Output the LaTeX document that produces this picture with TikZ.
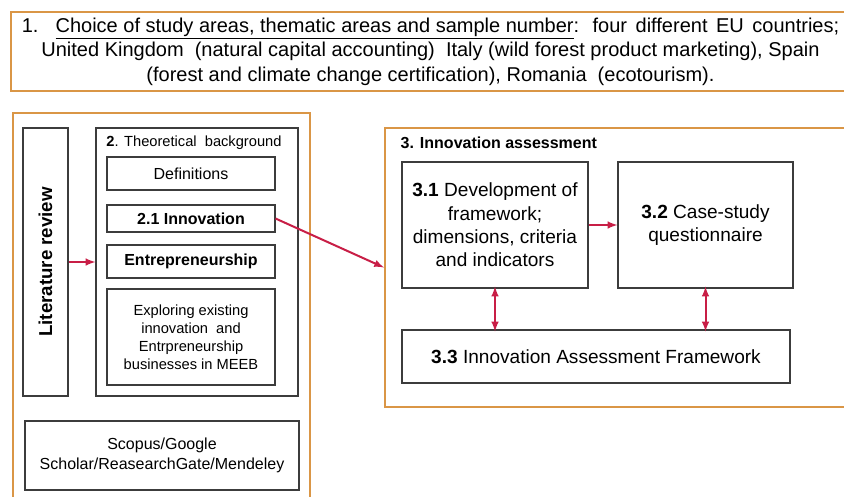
\documentclass[tikz,border=0pt]{standalone}
\usepackage{fontspec}
\setmainfont{Liberation Sans}
\usepackage{tikz}

\definecolor{frameorange}{RGB}{218,150,70}
\definecolor{linkred}{RGB}{200,30,70}
\definecolor{boxgray}{RGB}{60,60,60}

\tikzset{
  frame/.style={draw=frameorange, line width=1.5pt, inner sep=0pt},
  box/.style={draw=boxgray, line width=0.8pt, inner sep=0pt, align=center},
  link/.style={draw=linkred, line width=1.5pt, -latex},
  twoway/.style={draw=linkred, line width=1.5pt, latex-latex},
}

\newcommand{\fs}[1]{\fontsize{#1}{1.22\dimexpr #1pt\relax}\selectfont}

\begin{document}
\begin{tikzpicture}[x=0.75pt,y=0.75pt,yscale=-1,xscale=1]
    \useasboundingbox (0,0) rectangle (844,497);

    %Step 1 box (sizes below are in pt, 1 unit = 0.75pt)
    \node [frame, minimum width=629pt, minimum height=59.25pt, align=center, font=\fs{15}] (choice) at (430.5,51.5)
      {\makebox[613pt][s]{1.\ \ \underline{Choice of study areas, thematic areas and sample number}: four different EU countries;}\\
       United Kingdom\ \ (natural capital accounting)\ \ Italy (wild forest product marketing), Spain\\
       (forest and climate change certification), Romania\ \ (ecotourism).};

    %Outer frames
    \node [frame, minimum width=222.75pt, minimum height=300pt] (litframe) at (161.5,313) {};
    \node [frame, minimum width=356.25pt, minimum height=209.25pt] (assessframe) at (622.5,267.5) {};

    % Literature review
    \node [box, minimum width=33.75pt, minimum height=201pt, font=\fs{14}\bfseries] (litrev) at (45.5,262) {\rotatebox{90}{Literature review}};

    % Theoretical background
    \node [box, minimum width=151.5pt, minimum height=201pt] (theory) at (197,262) {};
    \draw (194,143) node [font=\fs{11}] (theorytitle) {\textbf{2}. Theoretical\ \ background};
    \node [box, minimum width=126pt, minimum height=24.75pt, font=\fs{12}] (defs) at (191,173.5) {Definitions};
    \node [box, minimum width=126pt, minimum height=20.25pt, font=\fs{12}\bfseries] (innov) at (191,218.5) {2.1 Innovation};
    \node [box, minimum width=126pt, minimum height=24.75pt, font=\fs{12}\bfseries] (entre) at (191,261.5) {Entrepreneurship};
    \node [box, minimum width=126pt, minimum height=72pt, font=\fs{11}] (explore) at (191,337) {Exploring existing\\innovation\ \ and\\Entrpreneurship\\businesses in MEEB};

    % Sources
    \node [box, minimum width=205.5pt, minimum height=51.75pt, font=\fs{12}] (scopus) at (162,455.5) {Scopus/Google\\Scholar/ReasearchGate/Mendeley};

    % Innovation assessment
    \draw (396,143) node [anchor=west, font=\fs{12}\bfseries] (assesstitle) {3. Innovation assessment};
    \node [box, minimum width=139.5pt, minimum height=94.5pt, font=\fs{14.3}] (dev) at (495,225) {\textbf{3.1} Development of\\framework;\\dimensions, criteria\\and indicators};
    \node [box, minimum width=131.25pt, minimum height=94.5pt, font=\fs{14.3}] (case) at (705.5,225) {\textbf{3.2} Case-study\\questionnaire};
    \node [box, minimum width=291pt, minimum height=39.75pt, font=\fs{14.3}] (iaf) at (596,356.5) {\textbf{3.3} Innovation Assessment Framework};

    % Arrows
    \draw [link] (litrev.east) -- (theory.west);
    \draw [link] (innov.east) -- (assessframe.west);
    \draw [link] (dev.east) -- (case.west);
    \draw [twoway] ([yshift=-1.5pt]dev.south) -- ([yshift=1.5pt]dev.south |- iaf.north);
    \draw [twoway] ([yshift=-1.5pt]case.south) -- ([yshift=1.5pt]case.south |- iaf.north);

\end{tikzpicture}
\end{document}
